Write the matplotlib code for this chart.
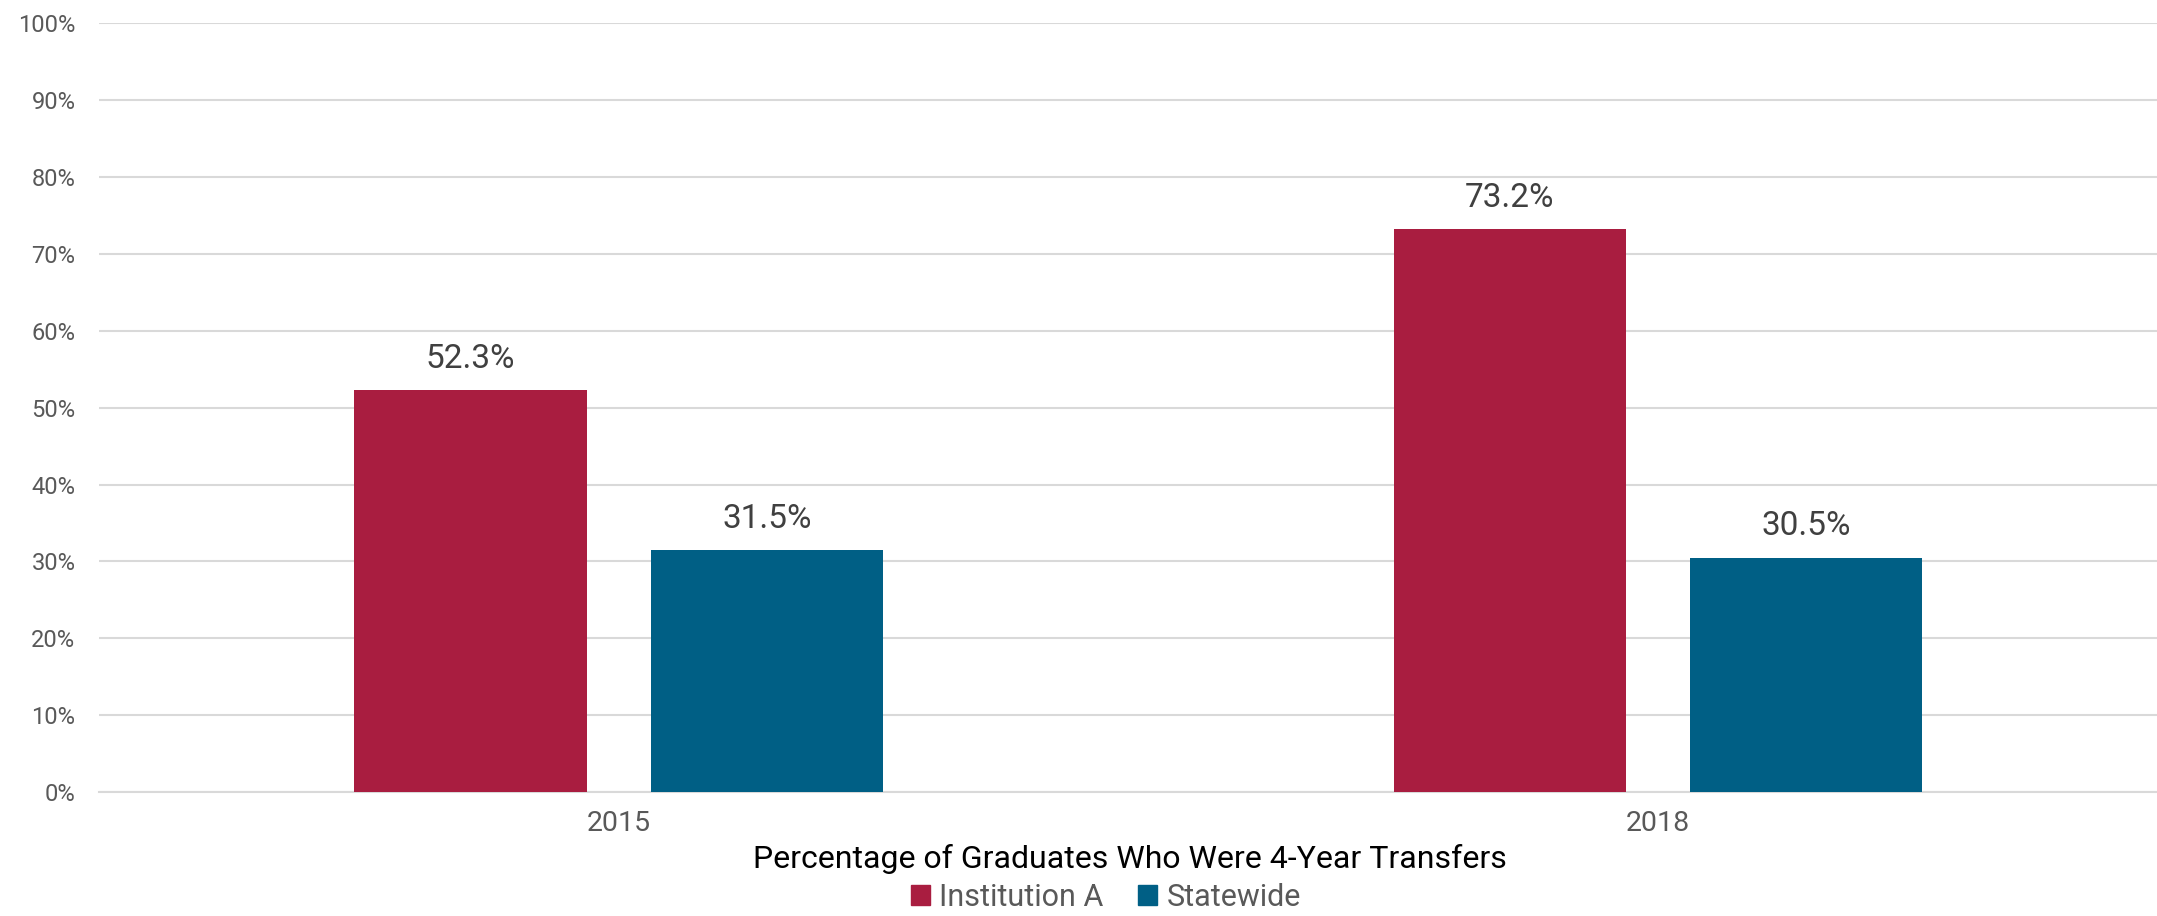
import matplotlib
matplotlib.use("Agg")
import matplotlib.pyplot as plt
import numpy as np

categories = ["2015", "2018"]
series_names = ["Institution A", "Statewide"]
institution_a = [52.3, 73.2]
statewide = [31.5, 30.5]
y_ticks = [0, 10, 20, 30, 40, 50, 60, 70, 80, 90, 100]
title = "Percentage of Graduates Who Were 4-Year Transfers"

colors = ["#A91D40", "#005F85"]
num_font = ["Roboto", "DejaVu Sans"]

fig = plt.figure(figsize=(21.57, 9.16), dpi=100)
ax = fig.add_axes([99/2157, 1-792/916, (2157-99)/2157, (792-23.3)/916])

x = np.arange(len(categories))
width = 0.2236
offset = 0.1425
for vals, col, name, off in zip([institution_a, statewide], colors, series_names, [-offset, offset]):
    bars = ax.bar(x + off, vals, width, color=col, label=name, zorder=3)
    for b, v in zip(bars, vals):
        ax.annotate(f"{v:.1f}%", (b.get_x() + b.get_width()/2, v),
                    xytext=(0, 11), textcoords="offset points",
                    ha="center", va="bottom", fontsize=24, color="#404040",
                    family=num_font)

ax.set_ylim(0, 100)
ax.set_xlim(-0.5, 1.48)
ax.set_yticks(y_ticks)
ax.set_yticklabels([f"{t}%" for t in y_ticks], family=num_font, fontsize=17, color="#595959")
ax.set_xticks(x)
ax.set_xticklabels(categories, family=num_font, fontsize=20.5, color="#595959")
ax.tick_params(axis="y", length=0, pad=17)
ax.tick_params(axis="x", length=0, pad=13)
ax.grid(axis="y", color="#D9D9D9", linewidth=1.5, zorder=0)
for s in ["top", "right", "left"]:
    ax.spines[s].set_visible(False)
ax.spines["bottom"].set_color("#D9D9D9")
ax.spines["bottom"].set_linewidth(1.5)

fig.text(1129.5/2157, 1 - 858.5/916, title, ha="center", va="center",
         fontsize=23, color="black", family=num_font)

handles = [plt.Rectangle((0, 0), 1, 1, color=c) for c in colors]
leg = fig.legend(handles, series_names, loc="center", bbox_to_anchor=(1105.7/2157, 1 - 897/916),
                 ncol=2, frameon=False, prop={"family": num_font, "size": 22},
                 handlelength=0.62, handleheight=0.62, handletextpad=0.3, columnspacing=1.15,
                 borderpad=0, borderaxespad=0)
for t in leg.get_texts():
    t.set_color("#595959")

fig.savefig("out.png", dpi=100)
